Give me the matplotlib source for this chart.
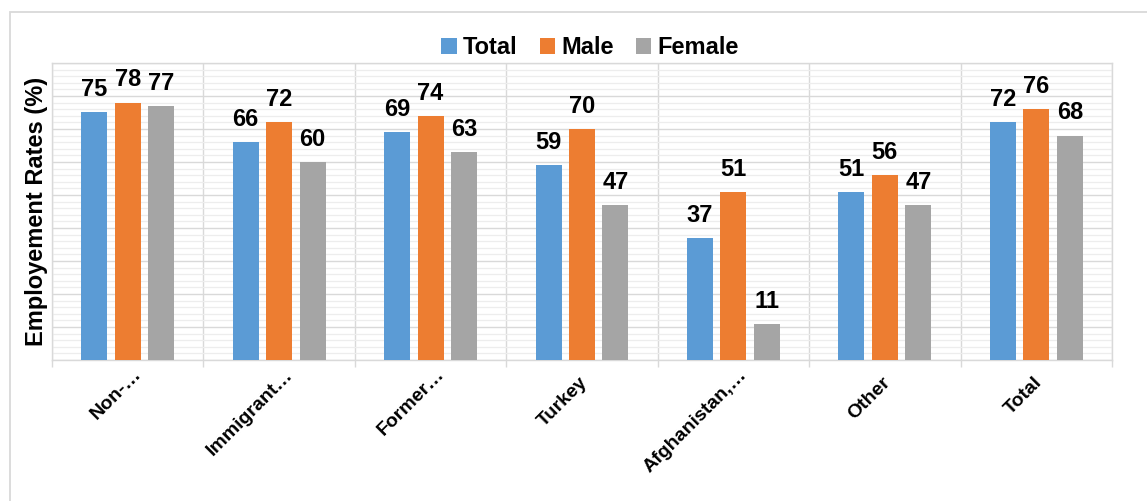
import matplotlib
matplotlib.use('Agg')
import matplotlib.pyplot as plt
import numpy as np
import matplotlib.transforms as mtransforms
from matplotlib.patches import Rectangle
from matplotlib.ticker import MultipleLocator, FixedLocator

categories = ["Non-…", "Immigrant…", "Former…", "Turkey", "Afghanistan,…", "Other", "Total"]
series_names = ["Total", "Male", "Female"]
total_vals = [75, 66, 69, 59, 37, 51, 72]
male_vals = [78, 72, 74, 70, 51, 56, 76]
female_vals = [77, 60, 63, 47, 11, 47, 68]
colors = ["#5B9BD5", "#ED7D31", "#A5A5A5"]

plt.rcParams['font.family'] = ['Liberation Sans', 'DejaVu Sans']

W, H = 1147, 501
fig = plt.figure(figsize=(W / 100, H / 100), dpi=100)
ax = fig.add_axes([52 / W, 1 - 360 / H, 1060 / W, 297 / H])

x = np.arange(len(categories))
width = 0.172
step = 0.221
containers = []
for i, (vals, col) in enumerate(zip([total_vals, male_vals, female_vals], colors)):
    bc = ax.bar(x + (i - 1) * step, vals, width, color=col, label=series_names[i], zorder=3)
    containers.append(bc)
    for rect, v in zip(bc, vals):
        ax.annotate(f"{v}", (rect.get_x() + rect.get_width() / 2, rect.get_height()),
                    xytext=(0, 8), textcoords='offset points', ha='center', va='bottom',
                    fontsize=17, fontweight='bold', color='#000000')

ax.set_xlim(-0.5, len(categories) - 0.5)
ax.set_ylim(0, 90)

ax.yaxis.set_major_locator(MultipleLocator(10))
ax.yaxis.set_minor_locator(MultipleLocator(2))
ax.grid(axis='y', which='major', color='#D9D9D9', lw=1.0, zorder=0)
ax.grid(axis='y', which='minor', color='#EDEDED', lw=0.9, zorder=0)
ax.tick_params(axis='y', which='both', length=0, labelleft=False)

ax.set_xticks(x)
ax.xaxis.set_minor_locator(FixedLocator(np.arange(-0.5, len(categories), 1.0)))
ax.grid(axis='x', which='minor', color='#D9D9D9', lw=1.0, zorder=0)
ax.tick_params(axis='x', which='minor', length=5, color='#D9D9D9', width=1.0, direction='out')
ax.tick_params(axis='x', which='major', length=0, pad=14.4)
ax.set_xticklabels(categories, rotation=45, ha='right', va='center', rotation_mode='anchor',
                   fontsize=14, fontweight='bold')
for lbl in ax.get_xticklabels():
    if lbl.get_text().endswith("…"):
        dx, dy = 11, 8
    else:
        dx, dy = 3, 0
    offset = mtransforms.ScaledTranslation(dx / 100, dy / 100, fig.dpi_scale_trans)
    lbl.set_transform(lbl.get_transform() + offset)

for s in ax.spines.values():
    s.set_color('#D9D9D9')
    s.set_linewidth(1.0)

ax.set_axisbelow(True)
ax.set_ylabel('Employement Rates (%)', fontsize=17, fontweight='bold', labelpad=3)

fig.legend(handles=containers, labels=series_names, loc='center',
           bbox_to_anchor=(590 / W, 1 - 48 / H), ncol=3, frameon=False,
           prop={'size': 17, 'weight': 'bold'}, handlelength=0.65, handleheight=0.65,
           handletextpad=0.25, columnspacing=0.95, borderaxespad=0, borderpad=0)

fig.patches.append(Rectangle((9.5 / W, -0.1), 1.2, (1 - 11.5 / H) + 0.1,
                             transform=fig.transFigure, fill=False,
                             edgecolor='#D9D9D9', lw=1.3))

fig.savefig('out.png', dpi=100)
